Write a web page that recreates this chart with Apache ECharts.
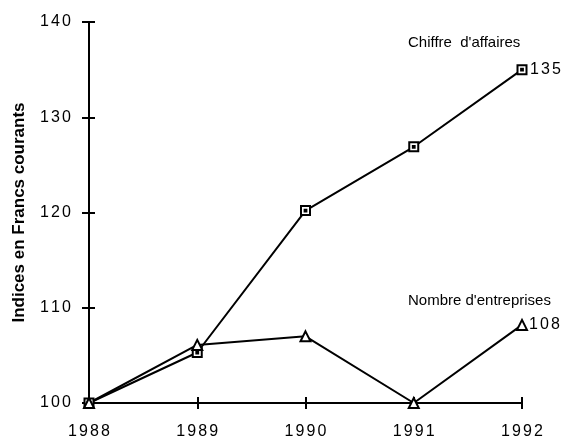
<!DOCTYPE html>
<html>
<head>
<meta charset="utf-8">
<script src="https://cdn.jsdelivr.net/npm/echarts@6/dist/echarts.min.js"></script>
<style>
  html, body { margin: 0; padding: 0; background: #fff; }
  #chart { width: 573px; height: 439px; }
</style>
</head>
<body>
<div id="chart"></div>
<script>
// données
const years = ['1988', '1989', '1990', '1991', '1992']
const chiffreAffaires = [100, 105.3, 120.2, 126.9, 135]
const nombreEntreprises = [100, 106.1, 107, 100, 108.2]
const yTicks = [100, 110, 120, 130, 140]

const font = 'Liberation Sans'

// chiffres espacés comme sur l'original
const spaced = (s) => String(s).split('').map((c) => '{d|' + c + '}').join('')
const digitRich = { d: { fontFamily: font, fontSize: 16, color: '#000', width: 11, align: 'center' } }
const tickStyle = { color: '#000', width: 2 }

// carré avec point central
const squareDot = 'path://M0 0H10V10H0ZM4 4H6V6H4Z'

const chart = echarts.init(document.getElementById('chart'))
chart.setOption({
  animation: false,
  grid: { left: 89, right: 51, top: 22, bottom: 36, outerBoundsMode: 'none' },
  xAxis: [
    {
      type: 'category',
      data: years,
      boundaryGap: false,
      axisLine: { lineStyle: { color: '#000', width: 2 } },
      axisTick: { show: true, length: 6, lineStyle: tickStyle },
      axisLabel: {
        interval: 0, formatter: spaced, rich: digitRich, margin: 21,
        fontFamily: font, fontSize: 16, color: '#000',
      },
    },
    {
      // ticks vers l'intérieur (les graduations traversent l'axe)
      type: 'category',
      data: years,
      boundaryGap: false,
      position: 'bottom',
      axisLine: { show: false },
      axisTick: { show: true, inside: true, length: 6, lineStyle: tickStyle },
      axisLabel: { show: false },
    },
  ],
  yAxis: [
    {
      type: 'value',
      min: yTicks[0],
      max: yTicks[yTicks.length - 1],
      interval: 10,
      name: 'Indices en Francs courants',
      nameLocation: 'middle',
      nameGap: 61,
      nameTextStyle: { color: '#000', fontFamily: font, fontSize: 17, fontWeight: 'bold' },
      axisLine: { show: true, lineStyle: { color: '#000', width: 2 } },
      axisTick: { show: true, length: 7, lineStyle: tickStyle },
      axisLabel: {
        formatter: spaced, rich: digitRich, margin: 17,
        fontFamily: font, fontSize: 16, color: '#000',
      },
      splitLine: { show: false },
    },
    {
      type: 'value',
      min: yTicks[0],
      max: yTicks[yTicks.length - 1],
      interval: 10,
      position: 'left',
      axisLine: { show: false },
      axisTick: { show: true, inside: true, length: 6, lineStyle: tickStyle },
      axisLabel: { show: false },
      splitLine: { show: false },
    },
  ],
  series: [
    {
      name: "Chiffre d'affaires",
      type: 'line',
      data: chiffreAffaires,
      symbol: squareDot,
      symbolSize: 9,
      lineStyle: { color: '#000', width: 2 },
      itemStyle: { color: '#fff', borderColor: '#000', borderWidth: 2 },
      endLabel: {
        show: true,
        formatter: (p) => spaced(Math.round(p.value)),
        rich: digitRich,
        fontFamily: font, fontSize: 16, color: '#000',
        distance: 7,
      },
    },
    {
      name: "Nombre d'entreprises",
      type: 'line',
      data: nombreEntreprises,
      symbol: 'triangle',
      symbolSize: 10,
      lineStyle: { color: '#000', width: 2 },
      itemStyle: { color: '#fff', borderColor: '#000', borderWidth: 2 },
      endLabel: {
        show: true,
        formatter: (p) => spaced(Math.round(p.value)),
        rich: digitRich,
        fontFamily: font, fontSize: 16, color: '#000',
        distance: 6,
      },
    },
  ],
  graphic: [
    {
      type: 'text', left: 408, top: 35,
      style: { text: "Chiffre  d'affaires", font: '15px "Liberation Sans"', fill: '#000' },
    },
    {
      type: 'text', left: 408, top: 293,
      style: { text: "Nombre d'entreprises", font: '15px "Liberation Sans"', fill: '#000' },
    },
  ],
})
</script>
</body>
</html>
